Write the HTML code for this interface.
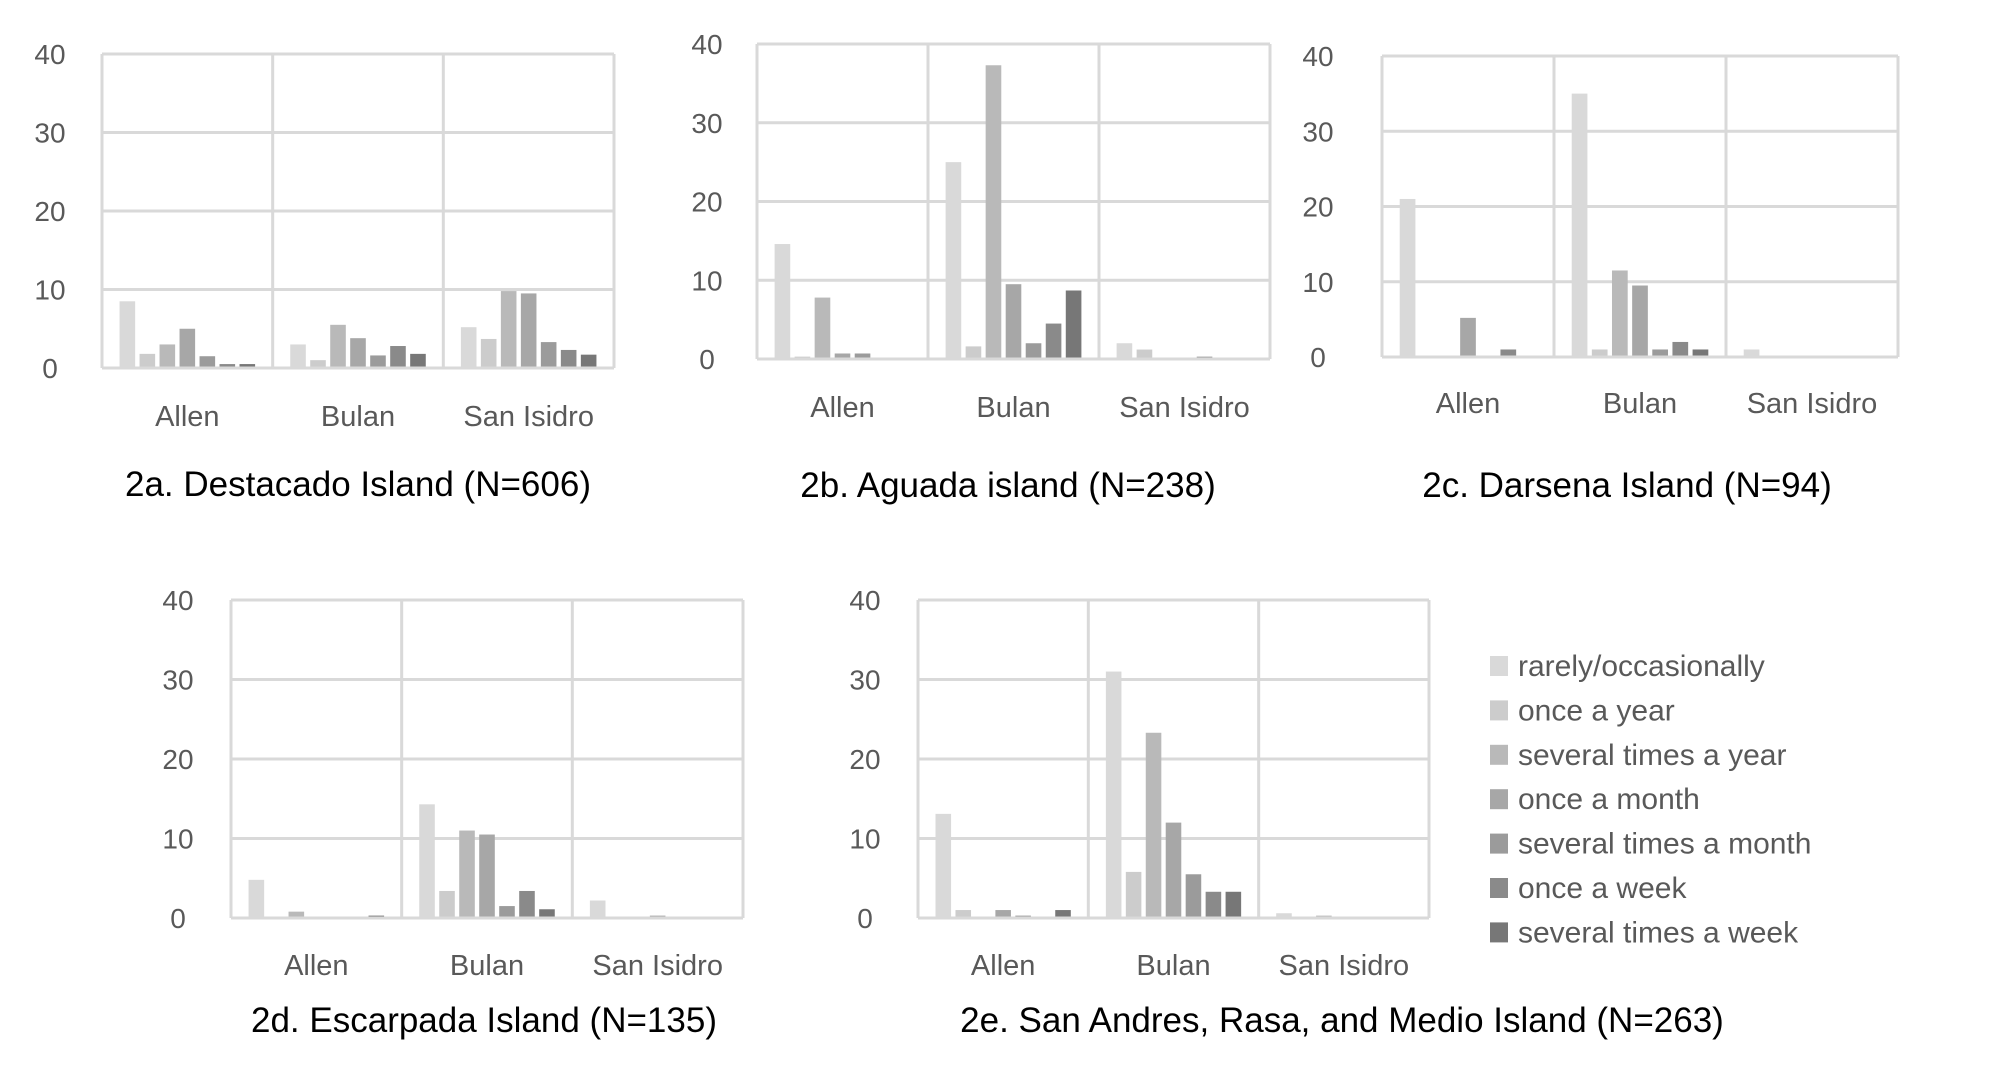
<!DOCTYPE html>
<html><head><meta charset="utf-8"><style>
html,body{margin:0;padding:0;background:#fff;width:2012px;height:1072px;overflow:hidden}
svg text{font-family:"Liberation Sans",sans-serif}
</style></head><body>
<svg id="fig" width="2012" height="1072" xmlns="http://www.w3.org/2000/svg"></svg>
<script>
const categories = ["Allen","Bulan","San Isidro"];
const seriesNames = ["rarely/occasionally","once a year","several times a year","once a month","several times a month","once a week","several times a week"];
const yTicks = [0,10,20,30,40];
const values2a = [[8.5,1.8,3,5,1.5,0.5,0.5],[3,1,5.5,3.8,1.6,2.8,1.8],[5.2,3.7,9.8,9.5,3.3,2.3,1.7]];
const values2b = [[14.6,0.3,7.8,0.7,0.7,0,0],[25,1.6,37.3,9.5,2,4.5,8.7],[2,1.2,0,0,0.3,0,0]];
const values2c = [[21,0,0,5.2,0,1,0],[35,1,11.5,9.5,1,2,1],[1,0,0,0,0,0,0]];
const values2d = [[4.8,0,0.8,0,0,0,0.3],[14.3,3.4,11,10.5,1.5,3.4,1.1],[2.2,0,0,0.3,0,0,0]];
const values2e = [[13.1,1,0,1,0.3,0,1],[31,5.8,23.3,12,5.5,3.3,3.3],[0.6,0,0.3,0,0,0,0]];
const titles = ["2a. Destacado Island (N=606)","2b. Aguada island  (N=238)","2c. Darsena Island (N=94)","2d. Escarpada Island (N=135)","2e. San Andres, Rasa, and Medio Island (N=263)"];
const colors = ["#d9d9d9","#cccccc","#b9b9b9","#a7a7a7","#9b9b9b","#8a8a8a","#777777"];
const panels = [
 {id:"2a",v:values2a,x0:102,x1:614,y0:54,y1:368,lx:50,cy:416,ty:484,tx:358},
 {id:"2b",v:values2b,x0:757,x1:1270,y0:44,y1:359,lx:707,cy:407,ty:485,tx:1008},
 {id:"2c",v:values2c,x0:1382,x1:1898,y0:56,y1:357,lx:1318,cy:403,ty:485,tx:1627},
 {id:"2d",v:values2d,x0:231,x1:743,y0:600,y1:918,lx:178,cy:965,ty:1020,tx:484},
 {id:"2e",v:values2e,x0:918,x1:1429,y0:600,y1:918,lx:865,cy:965,ty:1020,tx:1342}
];
const NS="http://www.w3.org/2000/svg";
const svg=document.getElementById('fig');
function mk(tag,attrs,parent){const e=document.createElementNS(NS,tag);for(const k in attrs)e.setAttribute(k,attrs[k]);(parent||svg).appendChild(e);return e;}
panels.forEach((p,pi)=>{
  const g=mk('g',{});
  
  
  const yScale=v=>p.y1-(v/40)*(p.y1-p.y0);
  const cw=(p.x1-p.x0)/categories.length;
  yTicks.forEach(t=>{
    const l=mk('line',{x1:p.x0,x2:p.x1,y1:yScale(t),y2:yScale(t),stroke:'#d9d9d9','stroke-width':3},g);
    
    
    const tx=mk('text',{x:p.lx,y:yScale(t)+10,'text-anchor':'middle','font-size':28,fill:'#595959'},g);
    tx.textContent=t;
    
    
  });
  for(let i=0;i<=categories.length;i++){
    const x=p.x0+i*cw;
    const l=mk('line',{x1:x,x2:x,y1:p.y0,y2:p.y1,stroke:'#d9d9d9','stroke-width':3},g);
    
    
  }
  categories.forEach((c,ci)=>{
    const slot=cw*0.82/7, bw=slot*0.78, start=p.x0+ci*cw+cw*0.09;
    p.v[ci].forEach((val,si)=>{
      if(val<=0)return;
      const y=yScale(val);
      const r=mk('rect',{x:start+si*slot+(slot-bw)/2,y:y,width:bw,height:p.y1-1.5-y,fill:colors[si]},g);
      
      
    });
    const t=mk('text',{x:p.x0+ci*cw+cw/2,y:p.cy+10,'text-anchor':'middle','font-size':29,fill:'#595959'},g);
    t.textContent=c;
    
    
  });
  const tt=mk('text',{x:p.tx,y:p.ty+12,'text-anchor':'middle','font-size':35,fill:'#000'},g);
  tt.textContent=titles[pi];
  
  
});
const lg=mk('g',{});


seriesNames.forEach((n,i)=>{
  const y=666+i*44.4;
  const r=mk('rect',{x:1490,y:y-10,width:18,height:20,fill:colors[i]},lg);
  
  
  const t=mk('text',{x:1518,y:y+10,'font-size':30,fill:'#595959'},lg);
  t.textContent=n;
  
  
});
</script>
</body></html>
